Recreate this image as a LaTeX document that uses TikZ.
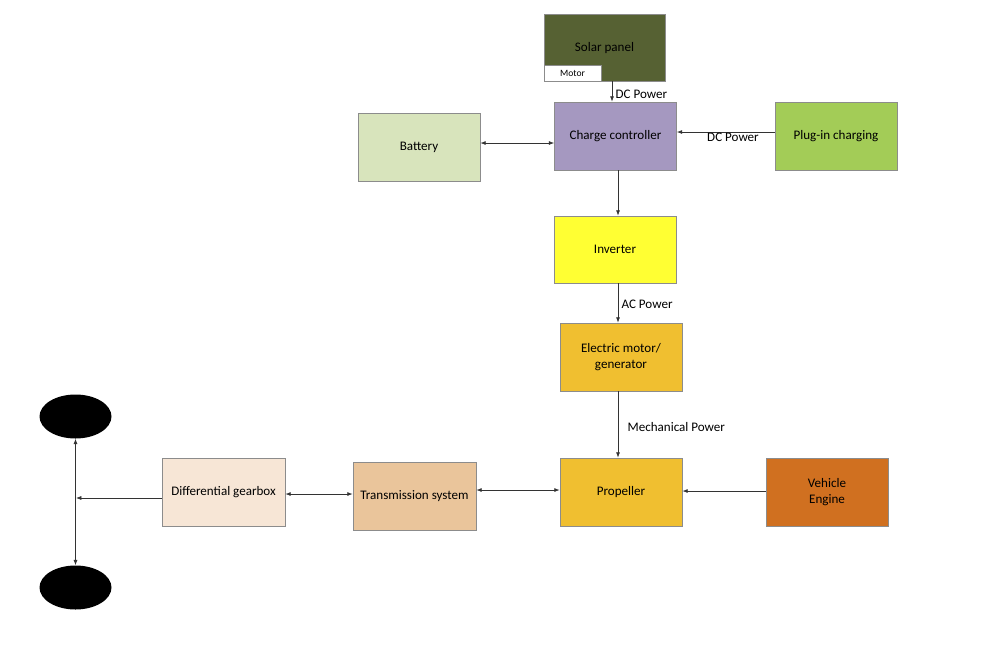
\documentclass[tikz,border=0pt]{standalone}
\usepackage{fontspec}
\setmainfont{Carlito}
\usetikzlibrary{arrows.meta,shapes.geometric}
\definecolor{solarc}{HTML}{566133}
\definecolor{chargec}{HTML}{A598C0}
\definecolor{battc}{HTML}{D8E4BC}
\definecolor{plugc}{HTML}{A3CC57}
\definecolor{invc}{HTML}{FFFF33}
\definecolor{motc}{HTML}{F0BF30}
\definecolor{engc}{HTML}{D07020}
\definecolor{transc}{HTML}{EAC59B}
\definecolor{diffc}{HTML}{F7E6D6}
\definecolor{bordc}{HTML}{8C8C8C}
\tikzset{
  box/.style={draw=bordc, line width=0.6pt, inner sep=0pt, align=center,
    minimum width=91.5pt, minimum height=51pt, font=\fontsize{9.8}{12}\selectfont},
  arr/.style={-{Latex[length=4pt,width=3pt]}, line width=0.5pt, draw=black!80},
  darr/.style={{Latex[length=4pt,width=3pt]}-{Latex[length=4pt,width=3pt]}, line width=0.5pt, draw=black!80},
  lbl/.style={font=\fontsize{9.8}{12}\selectfont, inner sep=1pt},
  wheel/.style={ellipse, fill=black, minimum width=54pt, minimum height=33pt, inner sep=0pt}
}
\begin{document}
\begin{tikzpicture}[x=0.75pt,y=-0.75pt]
\useasboundingbox (0,0) rectangle (1000,647);
% nodes
\node[box, fill=solarc, minimum width=90.75pt, minimum height=50.25pt] (solar) at (604.5,47.5) {};
\node[font=\fontsize{9.8}{12}\selectfont] (solartxt) at (604.5,48) {Solar panel};
\node[draw=bordc, fill=white, line width=0.6pt, inner sep=0pt, minimum width=42.75pt, minimum height=12pt, font=\fontsize{7.2}{8}\selectfont] (motorbox) at (572.5,73) {Motor};
\node[box, fill=chargec] (charge) at (615.5,136) {Charge controller};
\node[box, fill=battc] (batt) at (419,147) {Battery};
\node[box, fill=plugc] (plug) at (836,136) {Plug-in charging};
\node[box, fill=invc, minimum height=50.25pt] (inv) at (615,249.5) {Inverter};
\node[box, fill=motc] (emot) at (621,357) {Electric motor/\\generator};
\node[box, fill=motc] (prop) at (621,492) {Propeller};
\node[box, fill=engc] (eng) at (827,492) {Vehicle\\Engine};
\node[box, fill=transc, minimum width=92.25pt] (trans) at (414.5,496) {Transmission system};
\node[box, fill=diffc, minimum width=92.25pt] (diff) at (223.5,492) {Differential gearbox};
\node[wheel] (w1) at (75.5,416.5) {};
\node[wheel] (w2) at (75.5,587.5) {};
% reference coordinates
\coordinate (xa) at (612,0);
\coordinate (xb) at (618,0);
\coordinate (j) at (76,498);
% connectors
\draw[arr] (solar.south -| xa) -- (charge.north -| xa);
\node[lbl, anchor=west] (dc1) at (614,94) {DC Power};
\draw[arr] (plug.west |- 0,132) -- (charge.east |- 0,132);
\node[lbl] (dclbl) at (733,137) {DC Power};
\draw[darr] (batt.east |- 0,143) -- (charge.west |- 0,143);
\draw[arr] (charge.south -| xb) -- (inv.north -| xb);
\draw[arr] (inv.south -| xb) -- (emot.north -| xb);
\node[lbl, anchor=west] (ac) at (620,304) {AC Power};
\draw[arr] (emot.south -| xb) -- (prop.north -| xb);
\node[lbl, anchor=west] (mech) at (626,427) {Mechanical Power};
\draw[arr] (eng.west |- 0,491) -- (prop.east |- 0,491);
\draw[darr] (trans.east |- 0,490) -- (prop.west |- 0,490);
\draw[darr] (diff.east |- 0,494) -- (trans.west |- 0,494);
\draw[arr] (diff.west |- j) -- (j);
\draw[darr] (w1.south) -- (w2.north);
\end{tikzpicture}
\end{document}
